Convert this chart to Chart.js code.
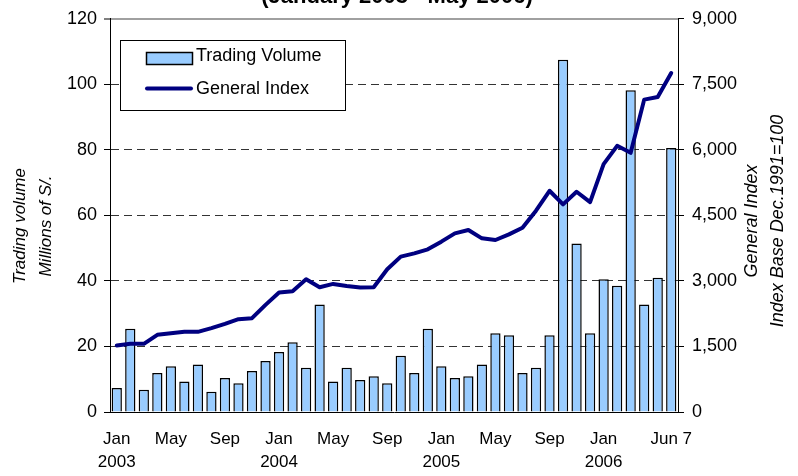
<!DOCTYPE html>
<html>
<head>
<meta charset="utf-8">
<script src="https://cdn.jsdelivr.net/npm/chart.js@4/dist/chart.umd.min.js"></script>
<style>
html,body{margin:0;padding:0;background:#fff;}
#wrap{width:798px;height:476px;position:relative;overflow:hidden;}
</style>
</head>
<body>
<div id="wrap"><canvas id="c" width="798" height="476"></canvas></div>
<script>
const categories = [
  'Jan 2003','Feb 2003','Mar 2003','Apr 2003','May 2003','Jun 2003','Jul 2003','Aug 2003','Sep 2003','Oct 2003','Nov 2003','Dec 2003',
  'Jan 2004','Feb 2004','Mar 2004','Apr 2004','May 2004','Jun 2004','Jul 2004','Aug 2004','Sep 2004','Oct 2004','Nov 2004','Dec 2004',
  'Jan 2005','Feb 2005','Mar 2005','Apr 2005','May 2005','Jun 2005','Jul 2005','Aug 2005','Sep 2005','Oct 2005','Nov 2005','Dec 2005',
  'Jan 2006','Feb 2006','Mar 2006','Apr 2006','May 2006','Jun 7 2006'
];
const tradingVolume = [
  7.3, 25.4, 6.8, 11.9, 14.0, 9.3, 14.5, 6.2, 10.4, 8.8, 12.5, 15.6,
  18.3, 21.3, 13.5, 32.8, 9.3, 13.5, 9.8, 10.9, 8.8, 17.2, 11.9, 25.4,
  14.0, 10.4, 10.9, 14.5, 24.0, 23.4, 11.9, 13.5, 23.4, 107.5, 51.4, 24.0,
  40.5, 38.5, 98.2, 32.8, 41.0, 80.6
];
const generalIndex = [
  1523, 1561, 1561, 1767, 1805, 1835, 1835, 1919, 2018, 2125, 2147, 2452,
  2734, 2764, 3038, 2856, 2932, 2886, 2848, 2856, 3267, 3556, 3632, 3724,
  3899, 4089, 4165, 3975, 3937, 4066, 4219, 4607, 5064, 4752, 5041, 4805,
  5673, 6092, 5932, 7150, 7211, 7760
];
const xTickIndex = [0, 4, 8, 12, 16, 20, 24, 28, 32, 36, 41];
const xTickText = [['Jan','2003'], 'May', 'Sep', ['Jan','2004'], 'May', 'Sep', ['Jan','2005'], 'May', 'Sep', ['Jan','2006'], 'Jun 7'];
const leftTicks = [0, 20, 40, 60, 80, 100, 120];
const rightTicks = [0, 1500, 3000, 4500, 6000, 7500, 9000];
const chartTitle = '(January 2003 - May 2006)';
const leftAxisTitle = ['Trading volume', 'Millions of S/.'];
const rightAxisTitle = ['General Index', 'Index Base Dec.1991=100'];

const FONT = '"Liberation Sans", Arial, sans-serif';

const extras = {
  id: 'extras',
  afterDatasetsDraw(chart) {
    const ctx = chart.ctx;
    // legend inside the plot
    ctx.save();
    ctx.fillStyle = '#fff';
    ctx.fillRect(120.5, 40.5, 225, 70);
    ctx.strokeStyle = '#000';
    ctx.lineWidth = 1;
    ctx.strokeRect(120.5, 40.5, 225, 70);
    const ds = chart.data.datasets;
    // bar swatch
    ctx.fillStyle = ds[0].backgroundColor;
    ctx.fillRect(146.5, 52.5, 46, 12);
    ctx.strokeStyle = '#000';
    ctx.lineWidth = 1.5;
    ctx.strokeRect(146.5, 52.5, 46, 12);
    // line swatch
    ctx.strokeStyle = ds[1].borderColor;
    ctx.lineWidth = 4;
    ctx.lineCap = 'round';
    ctx.beginPath();
    ctx.moveTo(147, 88.5);
    ctx.lineTo(191, 88.5);
    ctx.stroke();
    ctx.fillStyle = '#000';
    ctx.font = '18px ' + FONT;
    ctx.textBaseline = 'middle';
    ctx.textAlign = 'left';
    ctx.fillText(ds[0].label, 196, 56);
    ctx.fillText(ds[1].label, 196, 89);
    ctx.restore();
  },
  afterDraw(chart) {
    const ctx = chart.ctx;
    ctx.save();
    ctx.fillStyle = '#000';
    // title (cut off at the top)
    ctx.font = 'bold 22px ' + FONT;
    ctx.textAlign = 'center';
    ctx.textBaseline = 'alphabetic';
    ctx.fillText(chartTitle, 397, 3);
    // left axis title
    ctx.font = 'italic 17px ' + FONT;
    ctx.textBaseline = 'middle';
    ctx.save();
    ctx.translate(20, 226);
    ctx.rotate(-Math.PI / 2);
    ctx.fillText(leftAxisTitle[0], 0, 0);
    ctx.restore();
    ctx.save();
    ctx.translate(46, 226);
    ctx.rotate(-Math.PI / 2);
    ctx.fillText(leftAxisTitle[1], 0, 0);
    ctx.restore();
    // right axis title
    ctx.font = 'italic 18px ' + FONT;
    ctx.save();
    ctx.translate(752, 221);
    ctx.rotate(-Math.PI / 2);
    ctx.fillText(rightAxisTitle[0], 0, 0);
    ctx.restore();
    ctx.save();
    ctx.translate(778, 221);
    ctx.rotate(-Math.PI / 2);
    ctx.fillText(rightAxisTitle[1], 0, 0);
    ctx.restore();
    ctx.restore();
  }
};

new Chart(document.getElementById('c'), {
  data: {
    labels: categories,
    datasets: [
      {
        type: 'bar',
        label: 'Trading Volume',
        data: tradingVolume,
        yAxisID: 'y',
        backgroundColor: '#99CCFF',
        borderColor: '#000',
        borderWidth: 1.5,
        barPercentage: 0.76,
        categoryPercentage: 1,
        order: 2
      },
      {
        type: 'line',
        label: 'General Index',
        data: generalIndex,
        yAxisID: 'y1',
        borderColor: '#000080',
        backgroundColor: '#000080',
        borderWidth: 4,
        pointRadius: 0,
        tension: 0,
        borderCapStyle: 'round',
        borderJoinStyle: 'round',
        order: 1
      }
    ]
  },
  options: {
    responsive: false,
    animation: false,
    devicePixelRatio: 1,
    layout: { padding: { top: 18, left: 0, right: 0, bottom: 0 } },
    plugins: {
      legend: { display: false },
      tooltip: { enabled: false },
      title: { display: false }
    },
    scales: {
      x: {
        type: 'category',
        offset: true,
        grid: { drawOnChartArea: false, drawTicks: false },
        border: { display: true, color: '#000', width: 1 },
        ticks: {
          autoSkip: false,
          maxRotation: 0,
          minRotation: 0,
          padding: 15,
          color: '#000',
          font: { family: FONT, size: 17, lineHeight: 1.4 },
          callback: function(value, index) {
            const k = xTickIndex.indexOf(index);
            return k >= 0 ? xTickText[k] : '';
          }
        },
        afterFit: s => { s.height = 64; }
      },
      y: {
        position: 'left',
        min: leftTicks[0],
        max: leftTicks[leftTicks.length - 1],
        afterBuildTicks: s => { s.ticks = leftTicks.map(v => ({ value: v })); },
        grid: {
          color: c => c.tick.value === 120 ? '#a0a0a0' : (c.tick.value === 0 ? 'rgba(0,0,0,0)' : '#333'),
          lineWidth: c => c.tick.value === 120 ? 2 : 1,
          tickColor: '#000',
          tickWidth: 1,
          tickLength: 6
        },
        border: {
          display: true,
          color: '#000',
          width: 1,
          dash: c => (c.type === 'tick' && c.tick.value > 0 && c.tick.value < 120) ? [8, 5] : []
        },
        ticks: {
          padding: 7,
          color: '#000',
          font: { family: FONT, size: 18 }
        },
        afterFit: s => { s.width = 110; }
      },
      y1: {
        position: 'right',
        min: rightTicks[0],
        max: rightTicks[rightTicks.length - 1],
        afterBuildTicks: s => { s.ticks = rightTicks.map(v => ({ value: v })); },
        grid: {
          drawOnChartArea: false,
          tickColor: '#000',
          tickLength: 6
        },
        border: { display: true, color: '#000', width: 1 },
        ticks: {
          padding: 8,
          color: '#000',
          font: { family: FONT, size: 18 },
          callback: v => v.toLocaleString('en-US')
        },
        afterFit: s => { s.width = 120; }
      }
    }
  },
  plugins: [extras]
});
</script>
</body>
</html>
